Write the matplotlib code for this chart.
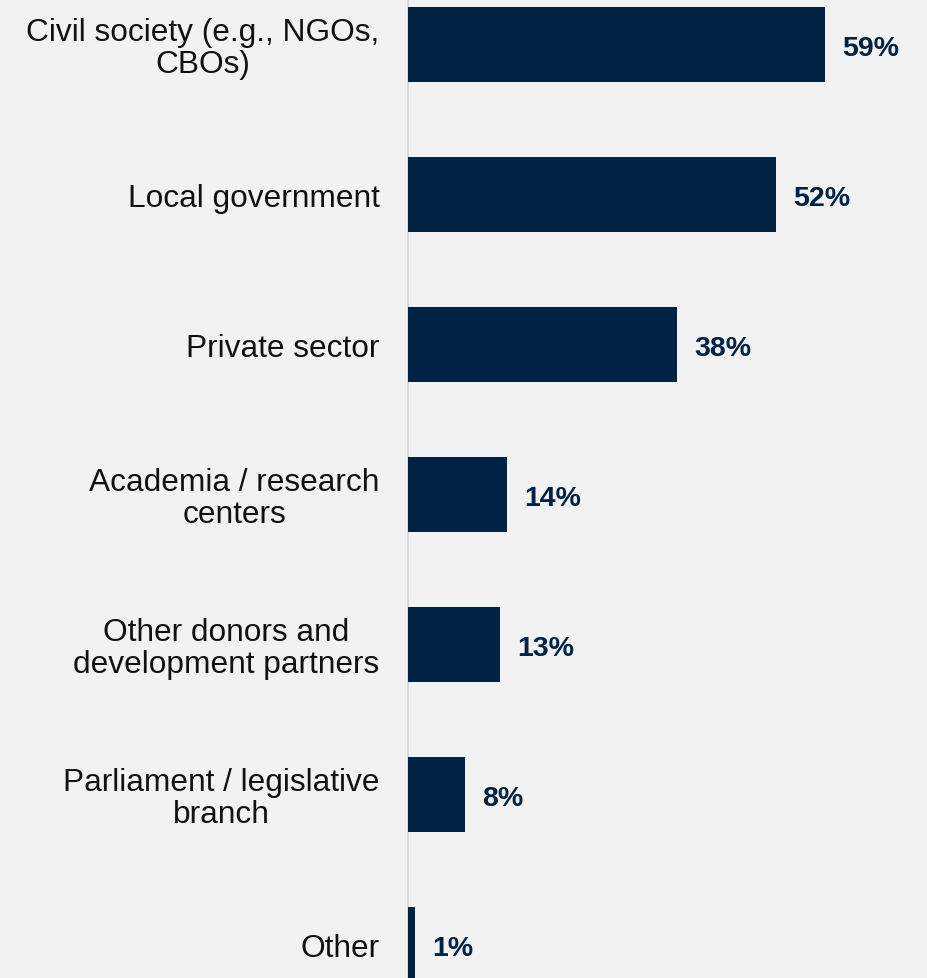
import matplotlib.pyplot as plt

categories = ["Civil society (e.g., NGOs,\nCBOs)", "Local government", "Private sector",
              "Academia / research\ncenters", "Other donors and\ndevelopment partners",
              "Parliament / legislative\nbranch", "Other"]
values = [59, 52, 38, 14, 13, 8, 1]
labels = ["59%", "52%", "38%", "14%", "13%", "8%", "1%"]

bg = "#f2f2f2"
navy = "#002345"

plt.rcParams["font.family"] = ["Liberation Sans", "DejaVu Sans"]

fig = plt.figure(figsize=(9.28, 9.79), dpi=100, facecolor=bg)
ax = fig.add_axes([408 / 928, 0, 1 - 408 / 928, 1])
ax.set_facecolor(bg)

pos = list(range(len(categories)))
ax.barh(pos, values, height=0.5, color=navy, zorder=1)
for p, v, lab, cat in zip(pos, values, labels, categories):
    # value labels
    ax.annotate(lab, xy=(v, p), xytext=(12.5, -3), textcoords="offset points",
                va="center", ha="left", fontsize=20.5, fontweight="bold", color=navy,
                annotation_clip=False)
    # category labels left of the axis
    ax.annotate(cat, xy=(0, p), xycoords="data", xytext=(-20.5, -3),
                textcoords="offset points", ha="right", va="center", fontsize=22.8,
                multialignment="center", color="#111111", annotation_clip=False,
                linespacing=1.1)

ax.set_xlim(0, (928 - 408) / 7.07)
ax.set_ylim(6 + 34 / 150, -0.3)
for s in ["top", "right", "bottom"]:
    ax.spines[s].set_visible(False)
ax.spines["left"].set_color("#d9d9d9")
ax.spines["left"].set_linewidth(1.5)
ax.spines["left"].set_zorder(0)
ax.set_xticks([])
ax.set_yticks([])

fig.savefig("out.png", dpi=100, facecolor=bg)
